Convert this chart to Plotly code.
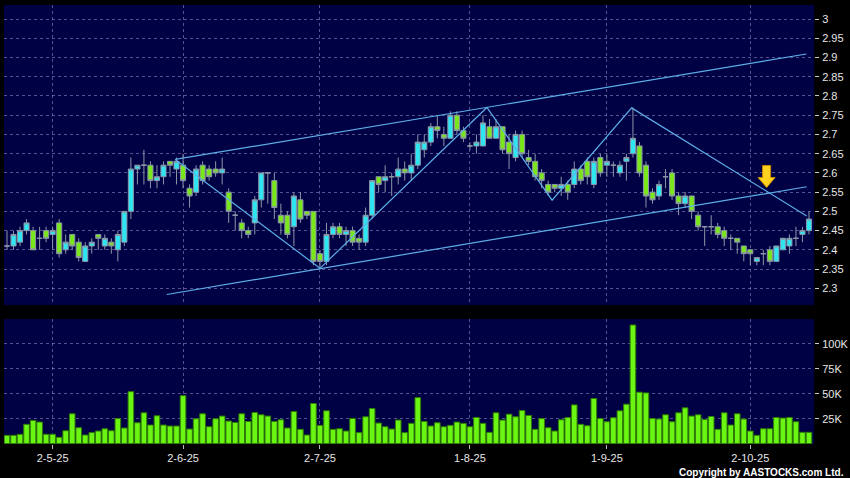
import plotly.graph_objects as go

# ---------------- data ----------------
session = list(range(124))  # trading-session index

opens = [2.41, 2.41, 2.42, 2.45, 2.45, 2.43, 2.45, 2.44, 2.47, 2.40,
         2.44, 2.42, 2.37, 2.41, 2.44, 2.41, 2.42, 2.40, 2.42, 2.50,
         2.61, 2.62, 2.62, 2.58, 2.59, 2.63, 2.61, 2.62, 2.56, 2.55,
         2.62, 2.61, 2.61, 2.60, 2.55, 2.49, 2.47, 2.45, 2.47, 2.53,
         2.60, 2.58, 2.49, 2.49, 2.46, 2.53, 2.50, 2.50, 2.39, 2.37,
         2.44, 2.46, 2.44, 2.45, 2.43, 2.42, 2.49, 2.59, 2.58, 2.59,
         2.59, 2.61, 2.60, 2.62, 2.66, 2.68, 2.72, 2.70, 2.69, 2.75,
         2.71, 2.67, 2.67, 2.67, 2.72, 2.69, 2.72, 2.68, 2.64, 2.70,
         2.64, 2.63, 2.60, 2.57, 2.57, 2.56, 2.57, 2.57, 2.61, 2.63,
         2.57, 2.64, 2.62, 2.62, 2.60, 2.63, 2.65, 2.67, 2.62, 2.55,
         2.54, 2.59, 2.60, 2.54, 2.52, 2.54, 2.49, 2.46, 2.46, 2.46,
         2.45, 2.43, 2.43, 2.41, 2.40, 2.37, 2.39, 2.40, 2.37, 2.40,
         2.41, 2.43, 2.44, 2.45]
highs = [2.45, 2.45, 2.46, 2.48, 2.46, 2.46, 2.46, 2.46, 2.48, 2.44,
         2.44, 2.43, 2.42, 2.43, 2.44, 2.44, 2.43, 2.45, 2.50, 2.64,
         2.62, 2.66, 2.63, 2.62, 2.63, 2.63, 2.64, 2.65, 2.57, 2.62,
         2.63, 2.62, 2.63, 2.64, 2.56, 2.50, 2.48, 2.46, 2.54, 2.60,
         2.60, 2.60, 2.52, 2.50, 2.55, 2.55, 2.50, 2.50, 2.40, 2.47,
         2.47, 2.47, 2.46, 2.46, 2.44, 2.51, 2.58, 2.59, 2.62, 2.60,
         2.64, 2.63, 2.65, 2.70, 2.70, 2.73, 2.75, 2.72, 2.76, 2.76,
         2.72, 2.68, 2.70, 2.75, 2.74, 2.74, 2.72, 2.70, 2.71, 2.71,
         2.66, 2.65, 2.61, 2.58, 2.57, 2.59, 2.58, 2.63, 2.62, 2.64,
         2.64, 2.65, 2.65, 2.63, 2.63, 2.65, 2.77, 2.68, 2.63, 2.56,
         2.58, 2.61, 2.61, 2.55, 2.55, 2.54, 2.50, 2.46, 2.49, 2.47,
         2.46, 2.44, 2.43, 2.41, 2.40, 2.38, 2.40, 2.41, 2.41, 2.43,
         2.44, 2.46, 2.46, 2.50]
lows = [2.40, 2.40, 2.41, 2.44, 2.40, 2.40, 2.42, 2.40, 2.38, 2.39,
        2.40, 2.37, 2.37, 2.39, 2.40, 2.40, 2.39, 2.37, 2.41, 2.48,
        2.57, 2.57, 2.56, 2.56, 2.57, 2.59, 2.57, 2.56, 2.51, 2.54,
        2.57, 2.58, 2.59, 2.57, 2.47, 2.45, 2.43, 2.43, 2.44, 2.51,
        2.52, 2.48, 2.44, 2.43, 2.41, 2.47, 2.48, 2.36, 2.35, 2.36,
        2.43, 2.43, 2.41, 2.41, 2.40, 2.41, 2.48, 2.55, 2.55, 2.54,
        2.57, 2.58, 2.58, 2.61, 2.64, 2.67, 2.69, 2.67, 2.69, 2.70,
        2.68, 2.66, 2.65, 2.67, 2.69, 2.69, 2.65, 2.61, 2.63, 2.64,
        2.62, 2.58, 2.56, 2.54, 2.55, 2.54, 2.53, 2.56, 2.57, 2.57,
        2.56, 2.59, 2.59, 2.59, 2.59, 2.58, 2.64, 2.59, 2.51, 2.52,
        2.53, 2.56, 2.53, 2.49, 2.51, 2.48, 2.45, 2.41, 2.44, 2.43,
        2.41, 2.40, 2.39, 2.37, 2.36, 2.36, 2.36, 2.36, 2.37, 2.40,
        2.39, 2.41, 2.42, 2.44]
closes = [2.41, 2.44, 2.45, 2.47, 2.40, 2.43, 2.43, 2.45, 2.39, 2.42,
          2.41, 2.38, 2.41, 2.42, 2.43, 2.43, 2.41, 2.44, 2.50, 2.61,
          2.62, 2.62, 2.58, 2.59, 2.62, 2.62, 2.63, 2.58, 2.54, 2.61,
          2.58, 2.59, 2.60, 2.61, 2.50, 2.49, 2.45, 2.44, 2.53, 2.60,
          2.60, 2.51, 2.47, 2.44, 2.54, 2.48, 2.49, 2.37, 2.37, 2.44,
          2.46, 2.44, 2.45, 2.42, 2.42, 2.49, 2.58, 2.57, 2.59, 2.59,
          2.61, 2.60, 2.62, 2.68, 2.68, 2.72, 2.71, 2.69, 2.75, 2.71,
          2.69, 2.67, 2.68, 2.73, 2.69, 2.72, 2.66, 2.65, 2.70, 2.65,
          2.63, 2.59, 2.58, 2.55, 2.56, 2.57, 2.55, 2.61, 2.58, 2.59,
          2.63, 2.60, 2.63, 2.62, 2.62, 2.64, 2.69, 2.60, 2.54, 2.53,
          2.57, 2.59, 2.54, 2.52, 2.54, 2.50, 2.46, 2.46, 2.46, 2.44,
          2.43, 2.43, 2.42, 2.39, 2.39, 2.38, 2.39, 2.37, 2.41, 2.43,
          2.43, 2.43, 2.45, 2.48]
volumes = [8300, 8300, 9300, 19300, 23200, 21600, 9300, 9300, 6300, 12900,
           29900, 15900, 8600, 11000, 12600, 14900, 12900, 25200, 15600, 52100,
           20900, 30900, 18600, 27900, 18600, 17600, 17600, 48100, 14600, 24900,
           29900, 16900, 24900, 27600, 22600, 21200, 29900, 22200, 31200, 28900,
           27600, 22200, 23900, 15600, 32200, 14300, 8600, 40200, 18300, 32900,
           14300, 14900, 12600, 25200, 11000, 26900, 35200, 20600, 16900, 14600,
           23600, 11000, 20300, 46100, 22200, 17600, 20900, 16900, 18300, 21600,
           20300, 16900, 26200, 20300, 11300, 30900, 23600, 29500, 26900, 33200,
           28200, 14300, 25200, 15900, 12600, 23900, 26200, 38800, 19300, 17900,
           45200, 25200, 21900, 25900, 32900, 39500, 118900, 51500, 50800, 25200,
           24600, 28900, 21900, 30900, 35900, 27600, 28900, 24200, 27200, 14300,
           30900, 18600, 29900, 24600, 12600, 8300, 14900, 14900, 26200, 25600,
           26200, 21900, 11300, 11300]

# month tick labels (d-m-yy) and the session they mark
month_tick_session = [7, 27, 48, 71, 92, 114]
month_tick_labels = ["2-5-25", "2-6-25", "2-7-25", "1-8-25", "1-9-25", "2-10-25"]

price_ticks = [2.3, 2.35, 2.4, 2.45, 2.5, 2.55, 2.6, 2.65, 2.7, 2.75,
               2.8, 2.85, 2.9, 2.95, 3.0]
volume_ticks = [25000, 50000, 75000, 100000]
volume_tick_labels = ["25K", "50K", "75K", "100K"]

# drawn trend lines (session, price)
channel_upper_x = [25.8, 122.6]
channel_upper_y = [2.635, 2.909]
channel_lower_x = [24.5, 122.65]
channel_lower_y = [2.284, 2.564]
zigzag_x = [25.8, 48.0, 73.6, 83.6, 95.8, 122.65]
zigzag_y = [2.635, 2.352, 2.770, 2.529, 2.769, 2.488]

# signal arrow (session, price of tip)
signal_x = [116.5]
signal_y = [2.562]

# ---------------- styles ----------------
NAVY = "#000044"
CYAN = "#2ee6f2"
GREEN = "#7ae61c"
WICK = "#8c96a8"
VOL = "#6af513"
VOL_EDGE = "#2f7d05"
TREND = "#5eaee8"
GRID = "rgba(150,150,205,0.55)"
TXT = "#e6e6e6"
FONT = "Liberation Sans, Arial, sans-serif"

fig = go.Figure()

fig.add_trace(go.Candlestick(
    x=session, open=opens, high=highs, low=lows, close=closes,
    increasing=dict(fillcolor=CYAN, line=dict(color=WICK, width=1)),
    decreasing=dict(fillcolor=GREEN, line=dict(color=WICK, width=1)),
    whiskerwidth=0, xaxis="x", yaxis="y", showlegend=False, hoverinfo="skip",
))

for xs, ys in [(channel_upper_x, channel_upper_y),
               (channel_lower_x, channel_lower_y),
               (zigzag_x, zigzag_y)]:
    fig.add_trace(go.Scatter(x=xs, y=ys, mode="lines",
                             line=dict(color=TREND, width=1.2),
                             xaxis="x", yaxis="y", showlegend=False,
                             hoverinfo="skip"))

fig.add_trace(go.Bar(
    x=session, y=volumes, marker=dict(color=VOL, line=dict(color=VOL_EDGE, width=1)),
    xaxis="x2", yaxis="y2", showlegend=False, hoverinfo="skip",
))

x_range = [-0.46, 123.77]
common_x = dict(range=x_range, tickvals=month_tick_session, showgrid=True,
                gridcolor=GRID, griddash="3px,3px", gridwidth=1,
                zeroline=False, showline=False, automargin=False)

common_y = dict(side="right", ticks="outside", ticklen=4, tickcolor="#cccccc",
                ticklabelstandoff=1,
                tickfont=dict(family=FONT, size=11, color=TXT),
                showgrid=True, gridcolor=GRID, griddash="3px,3px",
                zeroline=False, showline=False, automargin=False)

fig.update_layout(
    width=850, height=478,
    paper_bgcolor="black", plot_bgcolor=NAVY,
    margin=dict(l=4, r=36, t=5, b=34),
    boxgap=0.22, boxgroupgap=0, bargap=0.14,
    xaxis=dict(domain=[0, 1], anchor="y", showticklabels=False, ticks="",
               rangeslider=dict(visible=False), **common_x),
    xaxis2=dict(domain=[0, 1], anchor="y2", matches="x",
                ticktext=month_tick_labels, ticks="outside", ticklen=4,
                tickcolor="#bbbbbb",
                tickfont=dict(family=FONT, size=11, color=TXT), **common_x),
    yaxis=dict(domain=[0.3166, 1], range=[2.2566, 3.0364],
               tickvals=price_ticks, ticktext=[f"{v:g}" for v in price_ticks],
               **common_y),
    yaxis2=dict(domain=[0, 0.2847], range=[-400, 124900],
                tickvals=volume_ticks, ticktext=volume_tick_labels,
                **common_y),
)

fig.add_shape(type="path", xref="x", yref="y",
              xsizemode="pixel", ysizemode="pixel",
              xanchor=signal_x[0], yanchor=signal_y[0],
              path="M0,0 L-8.5,10 L-4,10 L-4,22 L4,22 L4,10 L8.5,10 Z",
              fillcolor="#ffd21f", line=dict(color="#c88a00", width=1),
              layer="above")

fig.add_annotation(text="<b>Copyright by AASTOCKS.com Ltd.</b>",
                   xref="paper", yref="paper", x=1.0395, y=-0.0638,
                   xanchor="right", yanchor="middle", showarrow=False,
                   font=dict(family=FONT, size=10, color="white"))

fig.write_html(
    "out.html",
    config={"displayModeBar": False},
    post_script="document.body.style.margin='0px';"
                "document.body.style.padding='0px';"
                "document.body.style.background='black';",
)
